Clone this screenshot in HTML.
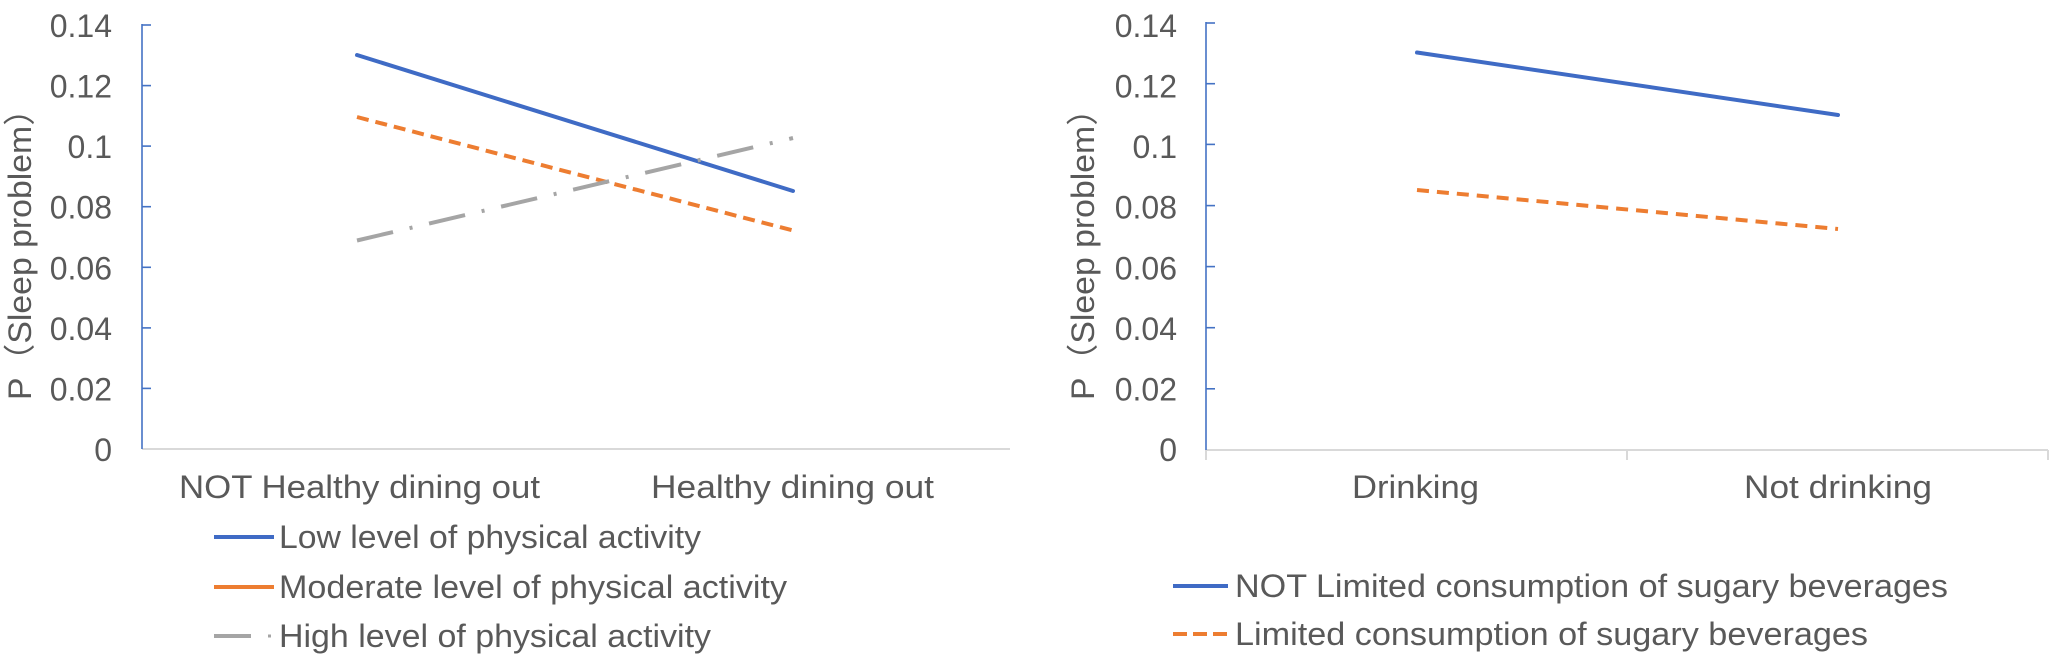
<!DOCTYPE html>
<html>
<head>
<meta charset="utf-8">
<style>
  html, body { margin: 0; padding: 0; background: #ffffff; }
  body { width: 2055px; height: 662px; overflow: hidden; }
  svg { display: block; }
  text { font-family: "Liberation Sans", "Noto Sans CJK SC", sans-serif; fill: #595959; font-size: 32px; }
</style>
</head>
<body>
<svg width="2055" height="662" viewBox="0 0 2055 662" xmlns="http://www.w3.org/2000/svg">
  <rect x="0" y="0" width="2055" height="662" fill="#ffffff"/>

  <!-- ================= LEFT CHART ================= -->
  <text transform="translate(31,400) rotate(-90)" x="0" y="0" textLength="308" lengthAdjust="spacingAndGlyphs">P（Sleep problem）</text>

  <g text-anchor="end">
    <text x="112" y="37">0.14</text>
    <text x="112" y="97.6">0.12</text>
    <text x="112" y="158.1">0.1</text>
    <text x="112" y="218.7">0.08</text>
    <text x="112" y="279.3">0.06</text>
    <text x="112" y="339.9">0.04</text>
    <text x="112" y="400.4">0.02</text>
    <text x="112" y="461">0</text>
  </g>

  <line x1="142" y1="449" x2="1010" y2="449" stroke="#d9d9d9" stroke-width="2"/>
  <line x1="142" y1="24" x2="142" y2="449" stroke="#4472c4" stroke-width="1.6"/>
  <g stroke="#4472c4" stroke-width="1.6">
    <line x1="142" y1="25" x2="151" y2="25"/>
    <line x1="142" y1="85.6" x2="151" y2="85.6"/>
    <line x1="142" y1="146.1" x2="151" y2="146.1"/>
    <line x1="142" y1="206.7" x2="151" y2="206.7"/>
    <line x1="142" y1="267.3" x2="151" y2="267.3"/>
    <line x1="142" y1="327.9" x2="151" y2="327.9"/>
    <line x1="142" y1="388.4" x2="151" y2="388.4"/>
  </g>

  <line x1="357" y1="55" x2="793" y2="191" stroke="#3f6bc5" stroke-width="4" stroke-linecap="round"/>
  <line x1="357" y1="117" x2="793" y2="230.5" stroke="#ed7d31" stroke-width="4" stroke-dasharray="12 7"/>
  <line x1="357" y1="240.5" x2="793" y2="138" stroke="#a5a5a5" stroke-width="4" stroke-dasharray="37 17 3 17"/>

  <text x="179" y="498" textLength="361" lengthAdjust="spacingAndGlyphs">NOT Healthy dining out</text>
  <text x="651" y="498" textLength="283" lengthAdjust="spacingAndGlyphs">Healthy dining out</text>

  <line x1="214" y1="537" x2="274" y2="537" stroke="#3f6bc5" stroke-width="4"/>
  <text x="279" y="548" textLength="422" lengthAdjust="spacingAndGlyphs">Low level of physical activity</text>
  <line x1="214" y1="587" x2="274" y2="587" stroke="#ed7d31" stroke-width="4"/>
  <text x="279" y="598" textLength="508" lengthAdjust="spacingAndGlyphs">Moderate level of physical activity</text>
  <line x1="214" y1="636" x2="251" y2="636" stroke="#a5a5a5" stroke-width="4"/>
  <line x1="268" y1="636" x2="271" y2="636" stroke="#a5a5a5" stroke-width="3"/>
  <text x="279" y="647" textLength="432" lengthAdjust="spacingAndGlyphs">High level of physical activity</text>

  <!-- ================= RIGHT CHART ================= -->
  <text transform="translate(1094,400) rotate(-90)" x="0" y="0" textLength="308" lengthAdjust="spacingAndGlyphs">P（Sleep problem）</text>

  <g text-anchor="end">
    <text x="1177" y="37">0.14</text>
    <text x="1177" y="97.6">0.12</text>
    <text x="1177" y="158.1">0.1</text>
    <text x="1177" y="218.7">0.08</text>
    <text x="1177" y="279.3">0.06</text>
    <text x="1177" y="339.9">0.04</text>
    <text x="1177" y="400.4">0.02</text>
    <text x="1177" y="461">0</text>
  </g>

  <line x1="1206" y1="450" x2="2048" y2="450" stroke="#d9d9d9" stroke-width="2"/>
  <g stroke="#d9d9d9" stroke-width="2">
    <line x1="1206" y1="450" x2="1206" y2="460"/>
    <line x1="1627" y1="450" x2="1627" y2="460"/>
    <line x1="2048" y1="450" x2="2048" y2="460"/>
  </g>
  <line x1="1206" y1="22" x2="1206" y2="450" stroke="#4472c4" stroke-width="1.6"/>
  <g stroke="#4472c4" stroke-width="1.6">
    <line x1="1206" y1="23" x2="1215" y2="23"/>
    <line x1="1206" y1="83.7" x2="1215" y2="83.7"/>
    <line x1="1206" y1="144.4" x2="1215" y2="144.4"/>
    <line x1="1206" y1="205.6" x2="1215" y2="205.6"/>
    <line x1="1206" y1="266.6" x2="1215" y2="266.6"/>
    <line x1="1206" y1="327.7" x2="1215" y2="327.7"/>
    <line x1="1206" y1="388.8" x2="1215" y2="388.8"/>
  </g>

  <line x1="1417" y1="52.5" x2="1838" y2="115" stroke="#3f6bc5" stroke-width="4" stroke-linecap="round"/>
  <line x1="1417" y1="190" x2="1838" y2="229" stroke="#ed7d31" stroke-width="4" stroke-dasharray="12 8"/>

  <text x="1352" y="498" textLength="127" lengthAdjust="spacingAndGlyphs">Drinking</text>
  <text x="1744" y="498" textLength="188" lengthAdjust="spacingAndGlyphs">Not drinking</text>

  <line x1="1173" y1="586" x2="1228" y2="586" stroke="#3f6bc5" stroke-width="4"/>
  <text x="1235" y="597" textLength="713" lengthAdjust="spacingAndGlyphs">NOT Limited consumption of sugary beverages</text>
  <line x1="1173" y1="634" x2="1228" y2="634" stroke="#ed7d31" stroke-width="4" stroke-dasharray="14 6"/>
  <text x="1235" y="645" textLength="633" lengthAdjust="spacingAndGlyphs">Limited consumption of sugary beverages</text>
</svg>
</body>
</html>
